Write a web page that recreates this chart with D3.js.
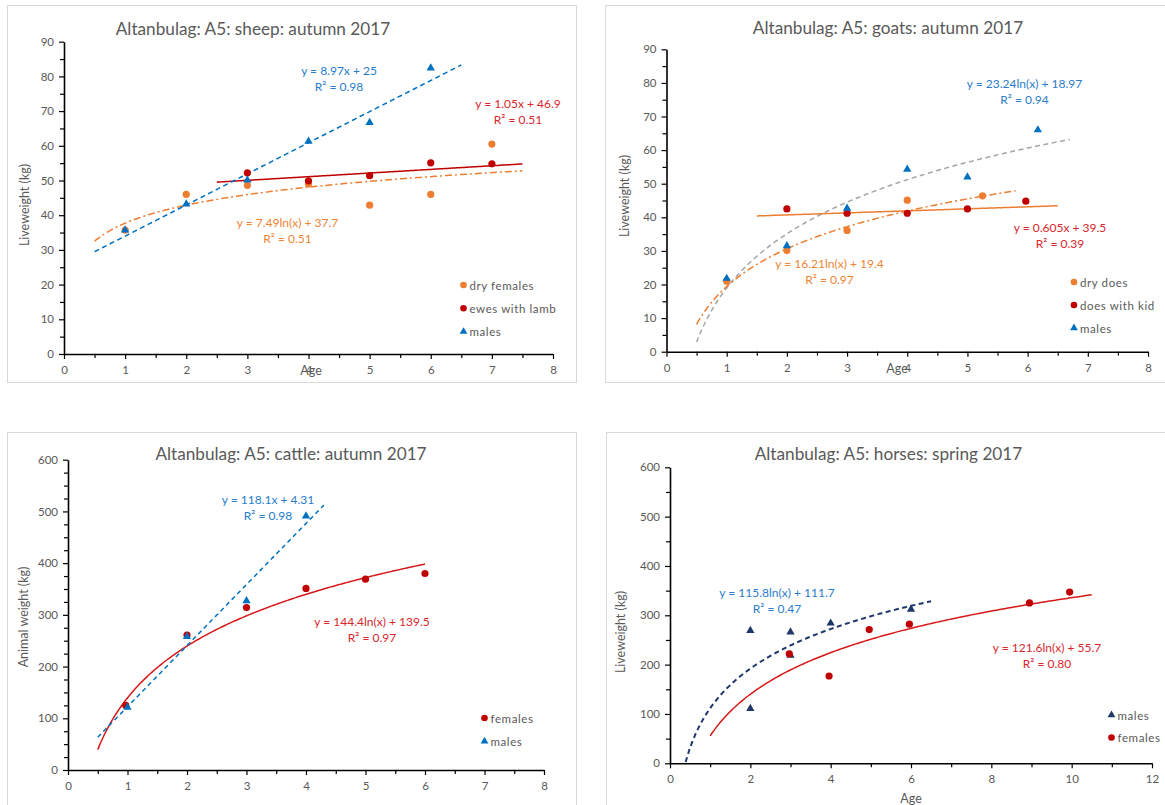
<!DOCTYPE html>
<html>
<head>
<meta charset="utf-8">
<script src="https://cdn.jsdelivr.net/npm/d3@7"></script>
<style>
  html, body { margin: 0; padding: 0; background: #ffffff; }
  svg { display: block; font-family: Lato, "Open Sans", sans-serif; }
</style>
</head>
<body>
<svg id="chart" width="1165" height="805"></svg>
<script>
// ---- Sheep, autumn 2017 ----
const sheepDryAge = [1, 2, 3, 4, 5, 6, 7];
const sheepDryWeight = [35.7, 46.0, 48.6, 49.0, 42.9, 46.0, 60.5];
const sheepEweAge = [3, 4, 5, 6, 7];
const sheepEweWeight = [52.2, 49.9, 51.4, 55.1, 54.8];
const sheepMaleAge = [1, 2, 3, 4, 5, 6];
const sheepMaleWeight = [35.7, 43.2, 50.1, 61.3, 66.7, 82.4];

// ---- Goats, autumn 2017 ----
const goatDryAge = [1, 2, 3, 4, 5.25];
const goatDryWeight = [21.0, 30.1, 36.1, 45.1, 46.4];
const goatKidAge = [2, 3, 4, 5, 5.97];
const goatKidWeight = [42.5, 41.2, 41.2, 42.5, 44.8];
const goatMaleAge = [1, 2, 3, 4, 5, 6.17];
const goatMaleWeight = [21.8, 31.5, 42.7, 54.3, 52.0, 66.0];

// ---- Cattle, autumn 2017 ----
const cattleFemaleAge = [0.97, 2, 3, 4, 5, 6];
const cattleFemaleWeight = [125, 261, 314, 351, 369, 380];
const cattleMaleAge = [1, 2, 3, 4];
const cattleMaleWeight = [121, 258, 327, 491];

// ---- Horses, spring 2017 ----
const horseMaleAge = [2, 2, 3, 3, 4, 6];
const horseMaleWeight = [269, 111, 266, 219, 284, 312];
const horseFemaleAge = [2.97, 3.96, 4.96, 5.96, 8.95, 9.95];
const horseFemaleWeight = [222, 177, 271, 282, 325, 347];

// ---- Fitted trendlines: [type, slope, intercept, R², from, to] ----
const sheepMaleFit = ["linear", 8.97, 25, 0.98, 0.5, 6.5];
const sheepEweFit = ["linear", 1.05, 46.9, 0.51, 2.5, 7.5];
const sheepDryFit = ["log", 7.49, 37.7, 0.51, 0.5, 7.5];
const goatMaleFit = ["log", 23.24, 18.97, 0.94, 0.5, 6.7];
const goatKidFit = ["linear", 0.605, 39.5, 0.39, 1.5, 6.5];
const goatDryFit = ["log", 16.21, 19.4, 0.97, 0.5, 5.8];
const cattleMaleFit = ["linear", 118.1, 4.31, 0.98, 0.5, 4.3];
const cattleFemaleFit = ["log", 144.4, 139.5, 0.97, 0.5, 6];
const horseMaleFit = ["log", 115.8, 111.7, 0.47, 0.39, 6.5];
const horseFemaleFit = ["log", 121.6, 55.7, 0.80, 1, 10.5];

// ---- Axis ticks ----
const ageTicks8 = [0, 1, 2, 3, 4, 5, 6, 7, 8];
const ageTicks12 = [0, 2, 4, 6, 8, 10, 12];
const smallWeightTicks = [0, 10, 20, 30, 40, 50, 60, 70, 80, 90];
const largeWeightTicks = [0, 100, 200, 300, 400, 500, 600];

const C = {
  orange: "#ED7D31", darkRed: "#C00000", blue: "#0070C0", grey: "#A5A5A5",
  navy: "#1F3868", red: "#D81818",
  blueText: "#2A7CCB", redText: "#D8262C", orangeText: "#EF8435",
  axisText: "#595959", title: "#595959"
};

const svg = d3.select("#chart");

function zip(xs, ys) { return xs.map((x, i) => ({ x, y: ys[i] })); }
function fitFn(fit) {
  const [type, a, b] = fit;
  return type === "log" ? (x => a * Math.log(x) + b) : (x => a * x + b);
}
function fitLabel(fit) {
  const [type, a, b] = fit;
  return type === "log" ? `y = ${a}ln(x) + ${b}` : `y = ${a}x + ${b}`;
}

function drawPanel(p) {
  const g = svg.append("g");
  g.append("rect")
    .attr("x", p.frame[0] + 0.5).attr("y", p.frame[1] + 0.5)
    .attr("width", p.frame[2]).attr("height", p.frame[3])
    .attr("fill", "#fff").attr("stroke", "#D9D9D9").attr("stroke-width", 1);

  const x = d3.scaleLinear().domain(p.xDomain).range([p.plot.left, p.plot.right]);
  const y = d3.scaleLinear().domain(p.yDomain).range([p.plot.bottom, p.plot.top]);

  // title
  g.append("text").attr("x", p.titlePos[0]).attr("y", p.titlePos[1])
    .attr("text-anchor", "middle").attr("dominant-baseline", "central")
    .attr("font-size", 17.2).attr("fill", C.title).text(p.title);

  // minor ticks
  g.append("g").attr("transform", `translate(0,${p.plot.bottom})`)
    .call(d3.axisBottom(x).tickValues(p.xMinor).tickSize(4).tickFormat(""))
    .call(a => a.select(".domain").remove());
  g.append("g").attr("transform", `translate(${p.plot.left},0)`)
    .call(d3.axisLeft(y).tickValues(p.yMinor).tickSize(4).tickFormat(""))
    .call(a => a.select(".domain").remove());

  // major axes
  const xa = g.append("g").attr("transform", `translate(0,${p.plot.bottom})`)
    .call(d3.axisBottom(x).tickValues(p.xTicks).tickSize(5).tickSizeOuter(0).tickPadding(7).tickFormat(d3.format("d")));
  const ya = g.append("g").attr("transform", `translate(${p.plot.left},0)`)
    .call(d3.axisLeft(y).tickValues(p.yTicks).tickSize(5).tickSizeOuter(0).tickPadding(5).tickFormat(d3.format("d")));
  [xa, ya].forEach(a => {
    a.selectAll("text").attr("font-size", 11.5).attr("fill", C.axisText).attr("font-family", "Lato, sans-serif");
    a.select(".domain").attr("stroke", "#000").attr("stroke-width", 1.6);
  });
  g.selectAll(".tick line").attr("stroke", "#000").attr("stroke-width", 1.2);

  // axis titles
  g.append("text")
    .attr("transform", `translate(${p.yTitlePos[0]},${p.yTitlePos[1]}) rotate(-90)`)
    .attr("text-anchor", "middle").attr("dominant-baseline", "central")
    .attr("font-size", 12.5).attr("fill", C.axisText).text(p.yTitle);
  if (p.xTitlePos) {
    g.append("text").attr("x", p.xTitlePos[0]).attr("y", p.xTitlePos[1])
      .attr("text-anchor", "middle").attr("dominant-baseline", "central")
      .attr("font-size", 12.5).attr("fill", C.axisText).text("Age");
  }

  // trendlines
  const line = d3.line().x(d => x(d[0])).y(d => y(d[1]));
  p.trends.forEach(t => {
    const f = fitFn(t.fit);
    const [, , , , from, to] = t.fit;
    const pts = d3.range(0, 201).map(i => { const xv = from + (to - from) * i / 200; return [xv, f(xv)]; });
    g.append("path").attr("d", line(pts)).attr("fill", "none")
      .attr("stroke", t.color).attr("stroke-width", t.width || 1.5)
      .attr("stroke-dasharray", t.dash || null);
  });

  // points
  p.series.forEach(s => {
    const data = zip(s.ages, s.weights);
    if (s.shape === "circle") {
      g.append("g").selectAll("circle").data(data).join("circle")
        .attr("cx", d => x(d.x)).attr("cy", d => y(d.y)).attr("r", 3.6).attr("fill", s.color);
    } else {
      g.append("g").selectAll("path").data(data).join("path")
        .attr("d", d3.symbol(d3.symbolTriangle, 30))
        .attr("transform", d => `translate(${x(d.x)},${y(d.y)})`).attr("fill", s.color);
    }
  });

  // equation labels
  p.trends.forEach(t => {
    if (!t.labelPos) return;
    const lab = g.append("text").attr("text-anchor", "middle")
      .attr("font-size", 12).attr("fill", t.textColor);
    lab.append("tspan").attr("x", t.labelPos[0]).attr("y", t.labelPos[1])
      .attr("dominant-baseline", "central").text(fitLabel(t.fit));
    lab.append("tspan").attr("x", t.labelPos[0]).attr("y", t.labelPos[1] + 16)
      .attr("dominant-baseline", "central").text(`R² = ${t.fit[3].toFixed(2)}`);
  });

  // legend
  p.legend.forEach((l, i) => {
    const ly = p.legendPos[1] + i * p.legendGap;
    const lx = p.legendPos[0];
    if (l.shape === "circle") {
      g.append("circle").attr("cx", lx).attr("cy", ly).attr("r", 3.3).attr("fill", l.color);
    } else {
      g.append("path").attr("d", d3.symbol(d3.symbolTriangle, 26)())
        .attr("transform", `translate(${lx},${ly})`).attr("fill", l.color);
    }
    g.append("text").attr("x", lx + 6).attr("y", ly).attr("dominant-baseline", "central")
      .attr("font-size", 11.5).attr("letter-spacing", 0.6)
      .attr("fill", C.axisText).text(l.name);
  });
}

const panels = [
  {
    frame: [7, 5, 569, 377], plot: { left: 64, right: 553, top: 41.7, bottom: 354 },
    xDomain: [0, 8], yDomain: [0, 90], xTicks: ageTicks8, yTicks: smallWeightTicks,
    xMinor: d3.range(0.5, 8, 1), yMinor: d3.range(5, 90, 10),
    title: "Altanbulag: A5: sheep: autumn 2017", titlePos: [253, 28],
    yTitle: "Liveweight (kg)", yTitlePos: [24, 205], xTitlePos: [311, 370],
    series: [
      { ages: sheepDryAge, weights: sheepDryWeight, shape: "circle", color: C.orange },
      { ages: sheepEweAge, weights: sheepEweWeight, shape: "circle", color: C.darkRed },
      { ages: sheepMaleAge, weights: sheepMaleWeight, shape: "triangle", color: C.blue }
    ],
    trends: [
      { fit: sheepDryFit, color: C.orange, dash: "7,3,2,3", textColor: C.orangeText, labelPos: [287.5, 222] },
      { fit: sheepEweFit, color: C.darkRed, textColor: C.redText, labelPos: [518, 103] },
      { fit: sheepMaleFit, color: C.blue, dash: "5,3.5", textColor: C.blueText, labelPos: [339, 70] }
    ],
    legend: [
      { name: "dry females", shape: "circle", color: C.orange },
      { name: "ewes with lamb", shape: "circle", color: C.darkRed },
      { name: "males", shape: "triangle", color: C.blue }
    ],
    legendPos: [463.5, 285], legendGap: 23.3
  },
  {
    frame: [605, 5, 600, 377], plot: { left: 666.5, right: 1148, top: 49.3, bottom: 351.7 },
    xDomain: [0, 8], yDomain: [0, 90], xTicks: ageTicks8, yTicks: smallWeightTicks,
    xMinor: d3.range(0.5, 8, 1), yMinor: d3.range(5, 90, 10),
    title: "Altanbulag: A5: goats: autumn 2017", titlePos: [888, 27],
    yTitle: "Liveweight (kg)", yTitlePos: [624, 196], xTitlePos: [897, 368],
    series: [
      { ages: goatDryAge, weights: goatDryWeight, shape: "circle", color: C.orange },
      { ages: goatKidAge, weights: goatKidWeight, shape: "circle", color: C.darkRed },
      { ages: goatMaleAge, weights: goatMaleWeight, shape: "triangle", color: C.blue }
    ],
    trends: [
      { fit: goatMaleFit, color: C.grey, dash: "5,3.5", textColor: C.blueText, labelPos: [1024.5, 83] },
      { fit: goatDryFit, color: C.orange, dash: "7,3,2,3", textColor: C.orangeText, labelPos: [829.5, 263] },
      { fit: goatKidFit, color: C.orange, textColor: C.redText, labelPos: [1060, 227] }
    ],
    legend: [
      { name: "dry does", shape: "circle", color: C.orange },
      { name: "does with kid", shape: "circle", color: C.darkRed },
      { name: "males", shape: "triangle", color: C.blue }
    ],
    legendPos: [1074, 282], legendGap: 23
  },
  {
    frame: [7, 432, 569, 400], plot: { left: 68, right: 544, top: 459.7, bottom: 770 },
    xDomain: [0, 8], yDomain: [0, 600], xTicks: ageTicks8, yTicks: largeWeightTicks,
    xMinor: d3.range(0.5, 8, 1), yMinor: d3.range(25, 600, 25).filter(v => v % 100 !== 0),
    title: "Altanbulag: A5: cattle: autumn 2017", titlePos: [291, 453],
    yTitle: "Animal weight (kg)", yTitlePos: [23, 617], xTitlePos: null,
    series: [
      { ages: cattleFemaleAge, weights: cattleFemaleWeight, shape: "circle", color: C.darkRed },
      { ages: cattleMaleAge, weights: cattleMaleWeight, shape: "triangle", color: C.blue }
    ],
    trends: [
      { fit: cattleFemaleFit, color: C.red, textColor: C.redText, labelPos: [372, 621] },
      { fit: cattleMaleFit, color: C.blue, dash: "4.5,3.5", textColor: C.blueText, labelPos: [268, 499] }
    ],
    legend: [
      { name: "females", shape: "circle", color: C.darkRed },
      { name: "males", shape: "triangle", color: C.blue }
    ],
    legendPos: [484.5, 718], legendGap: 23.3
  },
  {
    frame: [606, 432, 600, 400], plot: { left: 670, right: 1152, top: 467.3, bottom: 763.3 },
    xDomain: [0, 12], yDomain: [0, 600], xTicks: ageTicks12, yTicks: largeWeightTicks,
    xMinor: d3.range(1, 12, 2), yMinor: d3.range(50, 600, 100),
    title: "Altanbulag: A5: horses: spring 2017", titlePos: [888.5, 453],
    yTitle: "Liveweight (kg)", yTitlePos: [620, 632], xTitlePos: [911, 798],
    series: [
      { ages: horseMaleAge, weights: horseMaleWeight, shape: "triangle", color: C.navy },
      { ages: horseFemaleAge, weights: horseFemaleWeight, shape: "circle", color: C.darkRed }
    ],
    trends: [
      { fit: horseFemaleFit, color: C.red, textColor: C.redText, labelPos: [1047, 647] },
      { fit: horseMaleFit, color: C.navy, dash: "5,3.5", width: 2, textColor: C.blueText, labelPos: [777, 592] }
    ],
    legend: [
      { name: "males", shape: "triangle", color: C.navy },
      { name: "females", shape: "circle", color: C.darkRed }
    ],
    legendPos: [1111.5, 715], legendGap: 22.5
  }
];

panels.forEach(drawPanel);
</script>
</body>
</html>
